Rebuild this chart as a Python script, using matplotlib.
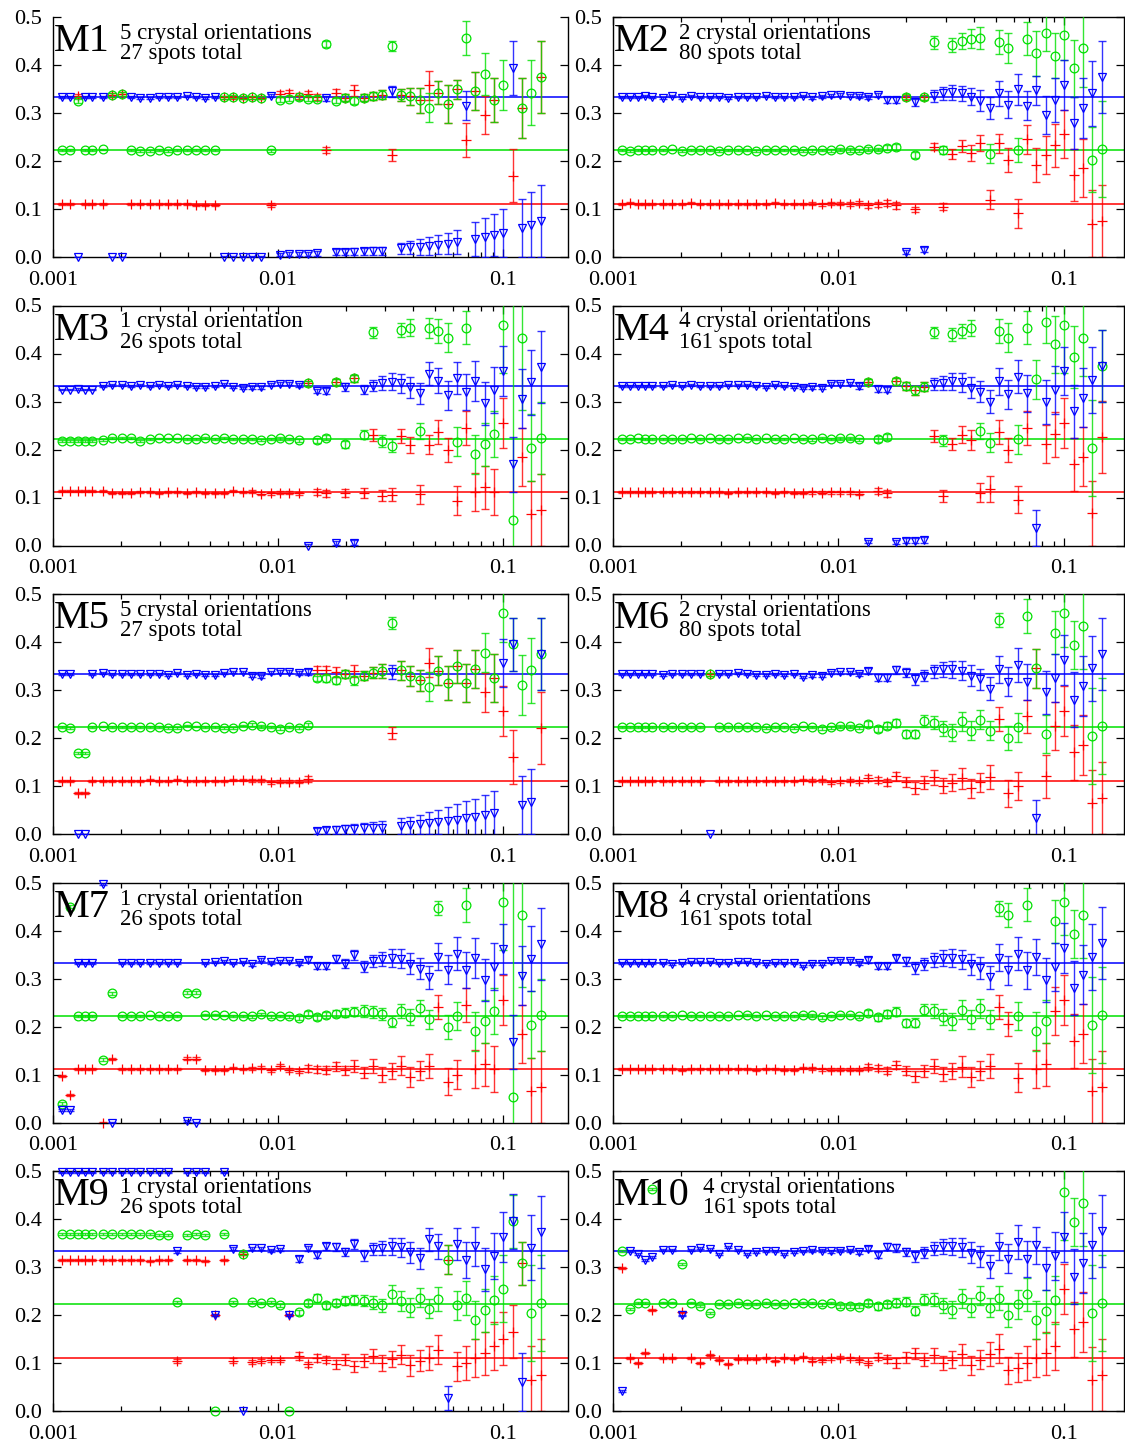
import matplotlib
matplotlib.use("Agg")
import matplotlib.pyplot as plt
from matplotlib.ticker import FixedLocator, LogLocator, NullFormatter
import numpy as np

plt.rcParams['font.family'] = ['Liberation Serif', 'DejaVu Serif']

NA = None

# x values shared by every panel: 5 closely spaced ones, then 48 regular ones
x_grid = [0.00110, 0.00119, 0.00129, 0.00139, 0.00149,
          0.001667, 0.001834, 0.002017, 0.002219, 0.002441, 0.002685, 0.002953, 0.003249,
          0.003574, 0.003931, 0.004324, 0.004757, 0.005232, 0.005756, 0.006331, 0.006964,
          0.007661, 0.008427, 0.009270, 0.010197, 0.011216, 0.012338, 0.013572, 0.014929,
          0.016422, 0.018064, 0.019871, 0.021858, 0.024044, 0.026448, 0.029093, 0.032002,
          0.035202, 0.038723, 0.042595, 0.046854, 0.051540, 0.056694, 0.062363, 0.068600,
          0.075460, 0.083006, 0.091306, 0.100437, 0.110480, 0.121528, 0.133681, 0.147049]

x_ticks = [0.001, 0.01, 0.1]
x_tick_labels = ["0.001", "0.01", "0.1"]
y_ticks = [0.0, 0.1, 0.2, 0.3, 0.4, 0.5]
y_tick_labels = ["0.0", "0.1", "0.2", "0.3", "0.4", "0.5"]
ref_levels = [1/3, 2/9, 1/9]

# ---------------- M1
m1_blue = [.333, .333, .000, .333, .333,
           .333, .000, .000, .333, .331, .331, .333, .333,
           .333, .335, .333, .331, .333, .000, .000, .001,
           .001, .001, .336, .005, .006, .006, .007, .008,
           .331, .010, .011, .011, .012, .012, .013, .345,
           .018, .020, .021, .023, .026, .028, .032, .315,
           .037, .041, .046, .051, .394, .061, .067, .076]
m1_blue_err = [.002, .002, .001, .002, .002,
               .002, .001, .001, .002, .002, .002, .002, .002,
               .002, .002, .002, .002, .002, .002, .002, .002,
               .002, .002, .003, .003, .004, .004, .004, .005,
               .005, .006, .006, .007, .007, .008, .008, .012,
               .012, .014, .016, .018, .020, .022, .025, .030,
               .035, .040, .044, .050, .056, .060, .068, .075]
m1_green = [.222, .222, .325, .223, .223,
            .224, .338, .340, .222, .221, .221, .222, .221,
            .222, .223, .223, .222, .222, .333, .334, .332,
            .333, .332, .222, .328, .330, .333, .330, .330,
            .444, .326, .332, .326, .332, .335, .338, .440,
            .338, .335, .327, .311, .342, .319, .349, .456,
            .346, .381, .327, .358, NA, .310, .342, .374]
m1_green_err = [.002, .002, .004, .002, .002,
                .002, .004, .004, .002, .002, .002, .002, .002,
                .002, .002, .002, .002, .002, .003, .003, .003,
                .003, .003, .004, .005, .005, .005, .005, .005,
                .006, .006, .007, .007, .008, .008, .009, .010,
                .012, .018, .026, .030, .024, .040, .020, .035,
                .040, .043, .045, .052, NA, .062, .068, .075]
m1_red = [.111, .111, .336, .111, .111,
          .111, .338, .340, .111, .110, .110, .111, .110,
          .110, .111, .109, .109, .109, .333, .333, .332,
          .333, .332, .109, .340, .341, .335, .340, .333,
          .223, .341, .332, .347, .332, .335, .338, .212,
          .338, .335, .327, .358, .342, .319, .349, .244,
          .346, .296, .327, NA, .169, .310, NA, .374]
m1_red_err = [.002, .002, .004, .002, .002,
              .002, .004, .004, .002, .002, .002, .002, .002,
              .002, .002, .002, .002, .002, .003, .003, .003,
              .003, .003, .004, .006, .006, .006, .006, .006,
              .007, .008, .007, .012, .008, .008, .009, .012,
              .012, .018, .026, .030, .024, .040, .020, .035,
              .040, .040, .045, NA, .055, .062, NA, .075]

# ---------------- M2
m2_blue = [.333, .333, .334, .335, .333,
           .332, .336, .331, .335, .333, .333, .334, .332,
           .333, .333, .333, .335, .333, .334, .333, .336,
           .333, .335, .337, .338, .336, .335, .333, .337,
           .327, .327, .010, .322, .015, .335, .341, .343,
           .341, .334, .326, .310, .341, .317, .349, .315,
           .347, .296, .327, .358, .280, .310, .341, .374]
m2_blue_err = [.002, .002, .002, .002, .002,
               .002, .002, .002, .002, .002, .002, .002, .002,
               .002, .002, .002, .002, .002, .002, .002, .002,
               .003, .003, .003, .003, .003, .004, .004, .004,
               .006, .006, .004, .008, .005, .012, .014, .016,
               .016, .018, .022, .023, .026, .028, .033, .030,
               .031, .040, .046, .052, .054, .062, .068, .075]
m2_green = [.222, .221, .222, .222, .223,
            .222, .224, .220, .222, .222, .222, .220, .223,
            .222, .222, .221, .223, .222, .222, .223, .221,
            .222, .223, .222, .224, .223, .222, .225, .224,
            .228, .229, .334, .213, .333, .447, .223, .442,
            .450, .455, .457, .215, .447, .435, .223, .455,
            .424, .467, .419, .462, .393, .435, .203, .224]
m2_green_err = [.002, .002, .002, .002, .002,
                .002, .002, .002, .002, .002, .002, .002, .002,
                .002, .002, .002, .002, .002, .002, .002, .002,
                .003, .003, .003, .003, .004, .004, .004, .004,
                .005, .006, .005, .006, .005, .013, .008, .015,
                .017, .020, .023, .020, .025, .031, .025, .035,
                .047, .038, .047, .052, .060, .080, .068, .100]
m2_red = [.111, .112, .111, .110, .111,
          .111, .110, .111, .112, .110, .111, .110, .111,
          .111, .110, .111, .111, .112, .110, .111, .110,
          .111, .110, .112, .111, .110, .112, .108, .110,
          .113, .108, .333, .099, .333, .230, .105, .215,
          .231, .217, .238, .119, .237, .202, .091, .245,
          .192, .213, .233, .256, .171, .185, .069, .076]
m2_red_err = [.002, .002, .002, .002, .002,
              .002, .002, .002, .002, .002, .002, .002, .002,
              .002, .002, .002, .002, .002, .002, .002, .002,
              .003, .003, .003, .003, .004, .004, .005, .005,
              .006, .007, .005, .006, .005, .008, .008, .010,
              .013, .017, .017, .020, .020, .025, .030, .030,
              .035, .040, .045, .050, .055, .060, .070, .075]

# ---------------- M3
m3_blue = [.325, .325, .326, .325, .325,
           .332, .334, .334, .333, .335, .333, .335, .332,
           .334, .333, .331, .331, .333, .337, .331, .328,
           .330, .330, .335, .337, .337, .335, .000, .322,
           .322, .005, .330, .006, .325, .333, .339, .341,
           .338, .330, .317, .358, .343, .313, .349, .320,
           .343, .296, .324, .363, .169, .306, .340, .372]
m3_blue_err = [.002, .002, .002, .002, .002,
               .002, .002, .002, .002, .002, .002, .002, .002,
               .002, .002, .002, .002, .002, .002, .002, .002,
               .003, .003, .003, .003, .003, .004, .003, .005,
               .006, .004, .008, .005, .010, .012, .015, .018,
               .020, .022, .022, .024, .026, .030, .033, .037,
               .041, .044, .048, .052, .057, .062, .068, .075]
m3_green = [.217, .217, .217, .217, .217,
            .220, .224, .224, .224, .218, .222, .223, .223,
            .223, .222, .222, .224, .221, .224, .222, .222,
            .222, .219, .222, .223, .222, .219, .338, .219,
            .225, .340, .211, .348, .231, .444, .218, .208,
            .449, .454, .238, .453, .447, .433, .216, .454,
            .190, .211, .232, .460, .054, .433, .204, .225]
m3_green_err = [.002, .002, .002, .002, .002,
                .002, .002, .002, .002, .002, .002, .002, .002,
                .002, .002, .002, .002, .002, .002, .002, .002,
                .002, .002, .003, .003, .003, .003, .005, .005,
                .006, .006, .007, .008, .010, .012, .013, .013,
                .015, .017, .017, .020, .025, .030, .030, .035,
                .040, .045, .048, .100, .450, .150, .070, .075]
m3_red = [.113, .113, .113, .113, .113,
          .113, .110, .110, .110, .112, .111, .110, .111,
          .111, .110, .112, .110, .110, .110, .113, .111,
          .112, .108, .109, .110, .110, .109, .338, .111,
          .109, .340, .109, .348, .109, .230, .104, .106,
          .228, .210, .107, .210, .237, .200, .093, .245,
          .111, .121, .111, .255, NA, .185, .065, .074]
m3_red_err = [.002, .002, .002, .002, .002,
              .002, .002, .002, .002, .002, .002, .002, .002,
              .002, .002, .002, .002, .002, .002, .002, .002,
              .003, .003, .003, .003, .003, .003, .005, .006,
              .007, .006, .008, .008, .010, .012, .012, .013,
              .015, .017, .020, .020, .025, .025, .030, .035,
              .040, .045, .048, .052, NA, .060, .070, .075]

# ---------------- M4
m4_blue = [.332, .332, .332, .333, .332,
           .332, .335, .332, .335, .333, .333, .333, .334,
           .335, .335, .333, .331, .334, .333, .331, .328,
           .330, .329, .337, .337, .338, .332, .008, .326,
           .325, .008, .010, .010, .012, .336, .338, .342,
           .340, .329, .320, .300, .342, .315, .352, .317,
           .037, .299, .325, .363, .280, .308, .345, .375]
m4_blue_err = [.002, .002, .002, .002, .002,
               .002, .002, .002, .002, .002, .002, .002, .002,
               .002, .002, .002, .002, .002, .002, .002, .002,
               .003, .003, .003, .003, .003, .006, .003, .006,
               .006, .004, .005, .005, .006, .012, .015, .018,
               .020, .022, .022, .024, .028, .030, .035, .038,
               .038, .045, .050, .050, .055, .062, .068, .075]
m4_green = [.222, .222, .223, .222, .222,
            .222, .222, .221, .223, .222, .223, .222, .221,
            .223, .224, .222, .223, .221, .222, .223, .222,
            .221, .224, .222, .223, .223, .221, .341, .222,
            .226, .342, .333, .323, .331, .444, .219, .440,
            .447, .453, .238, .214, .447, .433, .221, .454,
            .346, .466, .419, .460, .393, .433, .204, .374]
m4_green_err = [.002, .002, .002, .002, .002,
                .002, .002, .002, .002, .002, .002, .002, .002,
                .002, .002, .002, .002, .002, .002, .002, .002,
                .003, .003, .003, .003, .003, .003, .005, .006,
                .007, .008, .008, .009, .010, .012, .012, .014,
                .015, .017, .017, .020, .025, .030, .030, .035,
                .040, .045, .060, .100, .065, .080, .100, .075]
m4_red = [.111, .111, .111, .111, .111,
          .111, .111, .111, .112, .111, .111, .111, .110,
          .111, .111, .111, .112, .110, .112, .110, .109,
          .111, .110, .111, .111, .111, .108, .341, .114,
          .109, .342, .333, .323, .331, .228, .103, .211,
          .231, .220, .110, .117, .237, .200, .095, .245,
          NA, .211, .232, .256, .169, .185, .067, .226]
m4_red_err = [.002, .002, .002, .002, .002,
              .002, .002, .002, .002, .002, .002, .002, .002,
              .002, .002, .002, .002, .002, .002, .002, .002,
              .003, .003, .003, .003, .003, .003, .005, .006,
              .007, .008, .008, .009, .010, .012, .012, .012,
              .017, .020, .020, .027, .025, .025, .028, .035,
              NA, .040, .047, .052, .056, .062, .068, .075]

# ---------------- M5
m5_blue = [.333, .333, .000, .000, .333,
           .336, .333, .333, .334, .334, .334, .333, .332,
           .335, .332, .334, .332, .332, .336, .337, .337,
           .330, .329, .337, .338, .338, .335, .338, .007,
           .008, .009, .010, .011, .012, .012, .013, .338,
           .017, .018, .020, .023, .025, .027, .030, .033,
           .035, .039, .043, .357, .395, .061, .067, .374]
m5_blue_err = [.002, .002, .001, .001, .002,
               .002, .002, .002, .002, .002, .002, .002, .002,
               .002, .002, .002, .002, .002, .002, .002, .002,
               .003, .003, .003, .003, .003, .004, .006, .006,
               .007, .008, .009, .010, .011, .012, .014, .015,
               .016, .018, .020, .023, .026, .029, .032, .035,
               .038, .042, .046, .050, .055, .060, .068, .075]
m5_green = [.222, .220, .168, .168, .222,
            .224, .222, .222, .222, .222, .222, .222, .221,
            .221, .226, .224, .222, .222, .221, .221, .226,
            .228, .224, .223, .219, .223, .221, .227, .324,
            .324, .320, .333, .320, .330, .336, .340, .440,
            .341, .329, .320, .307, .340, .314, .349, .315,
            .344, .378, .325, .460, .395, .310, .341, .374]
m5_green_err = [.002, .002, .002, .002, .002,
                .002, .002, .002, .002, .002, .002, .002, .002,
                .002, .002, .002, .002, .002, .002, .002, .002,
                .003, .003, .003, .003, .003, .003, .005, .006,
                .007, .008, .008, .010, .010, .012, .014, .013,
                .020, .020, .022, .030, .030, .035, .035, .040,
                .040, .040, .050, .060, .055, .062, .068, .075]
m5_red = [.111, .111, .086, .086, .111,
          .111, .111, .111, .111, .111, .112, .110, .111,
          .113, .111, .111, .110, .110, .111, .113, .113,
          .112, .112, .108, .109, .109, .109, .115, .342,
          .342, .338, .333, .340, .330, .336, .340, .210,
          .341, .329, .320, .357, .340, .314, .349, .315,
          .344, .295, .325, .256, .160, NA, NA, .221]
m5_red_err = [.002, .002, .002, .002, .002,
              .002, .002, .002, .002, .002, .002, .002, .002,
              .002, .002, .002, .002, .002, .002, .002, .002,
              .003, .003, .003, .003, .003, .003, .006, .008,
              .009, .010, .008, .012, .010, .012, .014, .012,
              .020, .020, .022, .030, .030, .035, .035, .040,
              .040, .040, .050, .052, .056, NA, NA, .075]

# ---------------- M6
m6_blue = [.333, .333, .333, .333, .334,
           .332, .333, .333, .333, .334, .000, .333, .333,
           .335, .334, .332, .331, .334, .332, .333, .327,
           .331, .330, .336, .337, .337, .333, .339, .326,
           .326, .342, .336, .322, .330, .339, .343, .343,
           .340, .330, .322, .303, .343, .317, .352, .317,
           .033, .295, .325, .363, .280, .308, .345, .375]
m6_blue_err = [.002, .002, .002, .002, .002,
               .002, .002, .002, .002, .002, .001, .002, .002,
               .002, .002, .002, .002, .002, .002, .002, .002,
               .003, .003, .003, .003, .003, .004, .006, .007,
               .007, .008, .009, .012, .012, .014, .016, .018,
               .020, .022, .022, .024, .028, .030, .035, .038,
               .038, .045, .050, .052, .057, .062, .068, .075]
m6_green = [.222, .222, .222, .222, .222,
            .222, .222, .223, .222, .222, .333, .222, .223,
            .223, .222, .222, .221, .222, .222, .221, .224,
            .223, .219, .222, .224, .224, .221, .229, .219,
            .226, .231, .208, .208, .235, .232, .220, .211,
            .235, .215, .238, .215, .446, .200, .222, .454,
            .345, .208, .419, .460, .393, .433, .204, .225]
m6_green_err = [.002, .002, .002, .002, .002,
                .002, .002, .002, .002, .002, .003, .002, .002,
                .002, .002, .002, .002, .002, .002, .002, .002,
                .003, .003, .003, .003, .003, .003, .006, .007,
                .008, .009, .008, .009, .012, .014, .016, .018,
                .020, .020, .020, .020, .015, .025, .030, .035,
                .040, .040, .045, .070, .050, .090, .100, .100]
m6_red = [.111, .111, .111, .111, .111,
          .111, .111, .111, .111, .111, .333, .111, .111,
          .111, .110, .111, .110, .111, .111, .110, .113,
          .111, .112, .108, .110, .111, .110, .116, .113,
          .108, .120, .108, .096, .107, .118, .101, .107,
          .116, .095, .108, .118, .240, .085, .100, .245,
          .345, .120, .226, .256, .170, .185, .065, .074]
m6_red_err = [.002, .002, .002, .002, .002,
              .002, .002, .002, .002, .002, .003, .002, .002,
              .002, .002, .002, .002, .002, .002, .002, .002,
              .003, .003, .003, .003, .003, .003, .006, .006,
              .007, .009, .010, .012, .013, .015, .015, .017,
              .022, .020, .020, .025, .025, .028, .030, .035,
              .040, .045, .050, .052, .057, .062, .068, .075]

# ---------------- M7
m7_blue = [.027, .027, .333, .333, .333,
           .496, .000, .333, .333, .332, .333, .333, .333,
           .333, .004, .000, .332, .334, .336, .332, .335,
           .330, .339, .334, .336, .336, .332, .339, .326,
           .326, .340, .331, .349, .325, .337, .341, .343,
           .341, .331, .320, .303, .345, .318, .352, .318,
           .343, .297, .325, .362, .168, .306, .341, .372]
m7_blue_err = [.002, .002, .002, .002, .002,
               .002, .002, .002, .002, .002, .002, .002, .002,
               .002, .002, .002, .002, .002, .002, .002, .002,
               .003, .003, .003, .003, .003, .004, .005, .006,
               .007, .008, .009, .010, .012, .012, .015, .018,
               .020, .022, .022, .024, .028, .030, .035, .038,
               .041, .044, .048, .052, .057, .062, .068, .075]
m7_green = [.039, .450, .222, .222, .222,
            .131, .269, .222, .222, .222, .223, .221, .221,
            .221, .270, .270, .225, .225, .223, .221, .221,
            .221, .226, .221, .222, .221, .218, .227, .220,
            .224, .227, .229, .231, .232, .230, .226, .210,
            .232, .220, .238, .215, .447, .200, .222, .453,
            .190, .211, .232, .460, .054, .433, .204, .225]
m7_green_err = [.003, .003, .002, .002, .002,
                .003, .003, .002, .002, .002, .002, .002, .002,
                .002, .003, .003, .002, .002, .002, .002, .002,
                .003, .003, .003, .003, .003, .004, .005, .006,
                .007, .008, .009, .010, .012, .012, .013, .012,
                .015, .017, .017, .020, .015, .025, .030, .035,
                .040, .045, .048, .100, .450, .150, .070, .075]
m7_red = [.096, .058, .111, .111, .111,
          .000, .133, .111, .111, .111, .111, .111, .111,
          .111, .133, .133, .110, .110, .110, .113, .111,
          .113, .114, .109, .118, .110, .108, .113, .111,
          .109, .117, .109, .118, .104, .118, .100, .107,
          .118, .095, .108, .118, .240, .085, .100, .245,
          .111, .121, .111, .255, NA, .185, .065, .074]
m7_red_err = [.002, .002, .002, .002, .002,
              .002, .002, .002, .002, .002, .002, .002, .002,
              .002, .003, .003, .002, .002, .002, .002, .002,
              .003, .003, .003, .004, .004, .004, .007, .007,
              .008, .009, .009, .012, .012, .015, .015, .017,
              .020, .020, .020, .025, .025, .028, .030, .035,
              .040, .045, .048, .052, NA, .060, .070, .075]

# ---------------- M8
m8_blue = [.333, .333, .333, .333, .333,
           .333, .330, .333, .334, .335, .334, .333, .332,
           .334, .335, .333, .331, .333, .332, .332, .327,
           .331, .331, .336, .337, .337, .333, .339, .326,
           .326, .342, .336, .322, .330, .339, .343, .343,
           .340, .330, .322, .303, .343, .317, .352, .317,
           .345, .297, .325, .363, .280, .308, .345, .375]
m8_blue_err = [.002, .002, .002, .002, .002,
               .002, .002, .002, .002, .002, .002, .002, .002,
               .002, .002, .002, .002, .002, .002, .002, .002,
               .003, .003, .003, .003, .003, .004, .006, .007,
               .007, .008, .009, .012, .012, .014, .016, .018,
               .020, .022, .022, .024, .028, .030, .035, .038,
               .038, .045, .050, .052, .057, .062, .068, .075]
m8_green = [.222, .222, .222, .222, .222,
            .222, .222, .223, .222, .222, .222, .222, .221,
            .223, .224, .222, .223, .221, .222, .222, .224,
            .223, .219, .222, .224, .224, .221, .229, .219,
            .226, .231, .208, .208, .235, .232, .220, .211,
            .235, .215, .238, .215, .446, .433, .222, .454,
            .190, .211, .419, .460, .393, .433, .204, .225]
m8_green_err = [.002, .002, .002, .002, .002,
                .002, .002, .002, .002, .002, .002, .002, .002,
                .002, .002, .002, .002, .002, .002, .002, .002,
                .003, .003, .003, .003, .003, .003, .006, .007,
                .008, .009, .008, .009, .012, .014, .016, .018,
                .020, .020, .020, .020, .015, .025, .030, .035,
                .040, .045, .045, .070, .050, .090, .100, .100]
m8_red = [.111, .111, .111, .111, .111,
          .111, .111, .110, .111, .111, .111, .111, .111,
          .111, .111, .110, .111, .112, .110, .110, .113,
          .113, .111, .110, .110, .110, .110, .116, .113,
          .108, .120, .108, .096, .107, .118, .101, .107,
          .116, .095, .108, .118, .240, .205, .093, NA,
          .111, .121, .232, .256, .170, .185, .065, .074]
m8_red_err = [.002, .002, .002, .002, .002,
              .002, .002, .002, .002, .002, .002, .002, .002,
              .002, .002, .002, .002, .002, .002, .002, .002,
              .003, .003, .003, .003, .003, .003, .006, .006,
              .007, .009, .010, .012, .013, .015, .015, .017,
              .022, .020, .020, .025, .025, .025, .030, NA,
              .040, .045, .050, .052, .057, .062, .068, .075]

# ---------------- M9
m9_blue = [.497, .497, .497, .497, .497,
           .497, .497, .497, .497, .497, .497, .497, .497,
           .333, .497, .497, .497, .200, .497, .338, .000,
           .339, .339, .335, .337, .200, .317, .339, .325,
           .343, .342, .331, .348, .324, .337, .340, .343,
           .341, .331, .318, .358, .343, .028, .348, .315,
           .343, .295, .322, .363, .395, .060, .340, .372]
m9_blue_err = [.001, .001, .001, .001, .001,
               .001, .001, .001, .001, .001, .001, .001, .001,
               .003, .001, .001, .001, .003, .001, .003, .001,
               .003, .003, .003, .003, .003, .006, .005, .006,
               .007, .008, .009, .010, .012, .012, .015, .018,
               .020, .022, .022, .024, .026, .025, .033, .037,
               .041, .044, .048, .052, .057, .060, .068, .075]
m9_green = [.368, .368, .368, .368, .368,
            .368, .368, .368, .368, .368, .368, .367, .367,
            .227, .367, .368, .366, .000, .369, .227, .328,
            .227, .225, .227, .220, .000, .206, .225, .235,
            .220, .226, .230, .231, .230, .226, .220, .244,
            .229, .215, .236, .213, .233, .315, .220, .235,
            .190, .210, .231, .255, .395, .308, .204, .225]
m9_green_err = [.002, .002, .002, .002, .002,
                .002, .002, .002, .002, .002, .002, .002, .002,
                .003, .002, .002, .002, .002, .002, .003, .003,
                .003, .003, .003, .003, .002, .005, .006, .008,
                .007, .008, .010, .010, .012, .013, .014, .018,
                .020, .020, .020, .020, .025, .030, .030, .035,
                .040, .045, .050, .070, .055, .045, .100, .100]
m9_red = [.315, .315, .315, .315, .315,
          .315, .315, .315, .315, .315, .313, .315, .315,
          .105, .315, .315, .313, .200, .315, .105, .328,
          .102, .104, .106, .106, .200, .115, .097, .110,
          .107, .097, .107, .093, .105, .115, .100, .108,
          .117, .095, .105, .111, .128, .315, .093, .100,
          .111, .120, .136, .151, .165, .308, .065, .074]
m9_red_err = [.002, .002, .002, .002, .002,
              .002, .002, .002, .002, .002, .002, .002, .002,
              .004, .002, .002, .002, .003, .002, .005, .003,
              .005, .004, .004, .004, .003, .008, .006, .008,
              .008, .010, .012, .012, .013, .015, .016, .017,
              .020, .022, .022, .025, .030, .030, .030, .035,
              .040, .045, .050, .055, .055, .045, .070, .075]

# ---------------- M10
m10_blue = [.042, .334, .328, .314, .320,
            .335, .336, .199, .336, .339, .338, .327, .342,
            .335, .327, .332, .333, .334, .327, .332, .334,
            .335, .334, .333, .334, .335, .331, .338, .325,
            .342, .339, .331, .322, .330, .338, .343, .343,
            .341, .330, .322, .302, .343, .317, .352, .317,
            .345, .297, .322, .363, .280, .308, .345, .375]
m10_blue_err = [.002, .002, .002, .002, .002,
                .002, .002, .002, .002, .002, .002, .002, .002,
                .002, .002, .002, .002, .002, .002, .002, .002,
                .003, .003, .003, .003, .003, .004, .005, .006,
                .007, .008, .009, .012, .012, .014, .016, .018,
                .020, .022, .022, .024, .028, .030, .035, .038,
                .038, .045, .050, .052, .057, .062, .068, .075]
m10_green = [.333, .213, .225, .225, .463,
             .226, .226, .306, .226, .218, .205, .222, .222,
             .225, .222, .222, .225, .222, .222, .224, .225,
             .225, .222, .225, .218, .218, .217, .225, .218,
             .222, .226, .228, .209, .232, .232, .220, .211,
             .235, .215, .240, .215, .236, .200, .222, .243,
             .190, .208, .232, .457, .393, .433, .204, .225]
m10_green_err = [.002, .002, .002, .002, .002,
                 .002, .002, .002, .002, .002, .002, .002, .002,
                 .002, .002, .002, .002, .002, .002, .002, .002,
                 .003, .003, .003, .003, .003, .003, .006, .007,
                 .007, .009, .010, .010, .012, .014, .015, .018,
                 .020, .020, .020, .020, .025, .025, .030, .035,
                 .040, .045, .050, .100, .050, .090, .100, .100]
m10_red = [.297, .111, .100, .121, .211,
           .110, .110, .206, .110, .100, .117, .107, .098,
           .109, .108, .109, .110, .104, .110, .108, .112,
           .105, .106, .110, .111, .110, .106, .100, .113,
           .108, .100, .112, .120, .107, .116, .100, .107,
           .118, .095, .107, .118, .130, .085, .090, .100,
           .111, .120, .136, .255, .170, .185, .065, .074]
m10_red_err = [.002, .002, .002, .002, .002,
               .002, .002, .002, .002, .002, .002, .002, .002,
               .002, .002, .002, .002, .002, .002, .002, .002,
               .003, .003, .003, .003, .003, .003, .004, .007,
               .008, .010, .011, .012, .013, .015, .015, .017,
               .022, .020, .020, .025, .030, .028, .030, .035,
               .040, .045, .050, .052, .057, .062, .068, .075]

names = ["M1", "M2", "M3", "M4", "M5", "M6", "M7", "M8", "M9", "M10"]
notes = ["5 crystal orientations\n27 spots total",
         "2 crystal orientations\n80 spots total",
         "1 crystal orientation\n26 spots total",
         "4 crystal orientations\n161 spots total",
         "5 crystal orientations\n27 spots total",
         "2 crystal orientations\n80 spots total",
         "1 crystal orientation\n26 spots total",
         "4 crystal orientations\n161 spots total",
         "1 crystal orientations\n26 spots total",
         "4 crystal orientations\n161 spots total"]
blues = [m1_blue, m2_blue, m3_blue, m4_blue, m5_blue, m6_blue, m7_blue, m8_blue, m9_blue, m10_blue]
blue_errs = [m1_blue_err, m2_blue_err, m3_blue_err, m4_blue_err, m5_blue_err,
             m6_blue_err, m7_blue_err, m8_blue_err, m9_blue_err, m10_blue_err]
greens = [m1_green, m2_green, m3_green, m4_green, m5_green, m6_green, m7_green, m8_green, m9_green, m10_green]
green_errs = [m1_green_err, m2_green_err, m3_green_err, m4_green_err, m5_green_err,
              m6_green_err, m7_green_err, m8_green_err, m9_green_err, m10_green_err]
reds = [m1_red, m2_red, m3_red, m4_red, m5_red, m6_red, m7_red, m8_red, m9_red, m10_red]
red_errs = [m1_red_err, m2_red_err, m3_red_err, m4_red_err, m5_red_err,
            m6_red_err, m7_red_err, m8_red_err, m9_red_err, m10_red_err]

BLUE, GREEN, RED = "#0000ff", "#00e000", "#ff0000"

W, H = 1125.0, 1450.0
cols = [(53, 568, 0.1945), (613, 1124, 0.1846)]
row_tops = [17, 305.5, 594, 882.5, 1171]
ph = 240

fig = plt.figure(figsize=(11.25, 14.5), dpi=100)
x = np.array(x_grid)

for n in range(10):
    r, c = divmod(n, 2)
    x0, x1, xmax = cols[c]
    top = row_tops[r]
    ax = fig.add_axes([x0 / W, 1 - (top + ph) / H, (x1 - x0) / W, ph / H])
    ax.set_xscale("log")
    ax.set_xlim(0.001, xmax)
    ax.set_ylim(0, 0.5)

    for lev, col in zip(ref_levels, [BLUE, GREEN, RED]):
        ax.axhline(lev, color=col, lw=1.1, zorder=1)

    series = [(reds[n], red_errs[n], RED, "+", 7, 2),
              (greens[n], green_errs[n], GREEN, "o", 6.3, 3),
              (blues[n], blue_errs[n], BLUE, "v", 5.8, 4)]
    for vals, errs, col, mk, ms, z in series:
        y = np.array(vals, dtype=float)
        e = np.array(errs, dtype=float)
        ok = ~np.isnan(y)
        ax.errorbar(x[ok], y[ok], yerr=np.nan_to_num(e[ok]), fmt="none", ecolor=col,
                    elinewidth=1.0, capsize=2.8, capthick=1.0, alpha=0.8, zorder=z)
        ax.plot(x[ok], y[ok], ls="none", marker=mk, ms=ms, mfc="none", mec=col,
                mew=0.9, clip_on=False, zorder=z + 0.5)

    ax.xaxis.set_major_locator(FixedLocator(x_ticks))
    ax.set_xticklabels(x_tick_labels)
    ax.xaxis.set_minor_locator(LogLocator(base=10, subs=np.arange(2, 10)))
    ax.xaxis.set_minor_formatter(NullFormatter())
    ax.set_yticks(y_ticks)
    ax.set_yticklabels(y_tick_labels)
    ax.tick_params(which="both", direction="in", top=(n != 0), right=True,
                   labelsize=16, width=0.9)
    ax.tick_params(which="major", length=6)
    ax.tick_params(which="minor", length=3.5)
    ax.tick_params(axis="x", pad=10)
    ax.tick_params(axis="y", pad=8)
    for sp in ax.spines.values():
        sp.set_linewidth(1.0)
    if n == 0:
        ax.spines["top"].set_visible(False)

    ax.text(0.002, 0.975, names[n], transform=ax.transAxes, ha="left", va="top",
            fontsize=29, zorder=6)
    tx = 0.176 if n == 9 else 0.130
    ax.text(tx, 0.975, notes[n], transform=ax.transAxes, ha="left", va="top",
            fontsize=16.5, linespacing=0.95, zorder=6)

fig.savefig("out.png", dpi=100)
